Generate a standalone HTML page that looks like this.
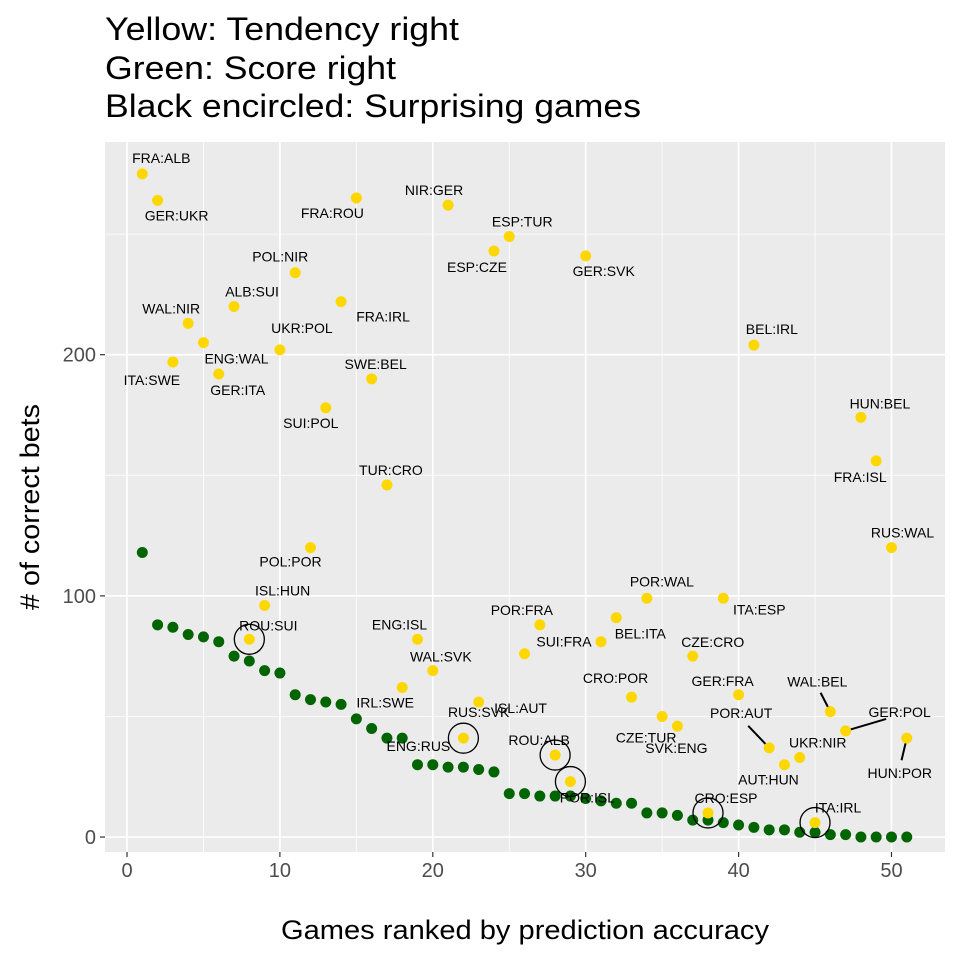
<!DOCTYPE html>
<html><head><meta charset="utf-8"><style>
html,body{margin:0;padding:0;background:#fff;}
svg{display:block;font-family:"Liberation Sans",sans-serif;}
</style></head><body>
<svg id="chart" width="960" height="960" viewBox="0 0 960 960">
<g font-size="32" fill="#000">
<text x="105" y="40" textLength="354" lengthAdjust="spacingAndGlyphs">Yellow: Tendency right</text>
<text x="105" y="79" textLength="291" lengthAdjust="spacingAndGlyphs">Green: Score right</text>
<text x="105" y="117" textLength="536" lengthAdjust="spacingAndGlyphs">Black encircled: Surprising games</text>
</g>
<rect x="105" y="142" width="840" height="710" fill="#EBEBEB"/>
<g id="grid"></g>
<g id="axes"></g>
<g id="marks"></g>
<text x="525" y="939" text-anchor="middle" font-size="27" textLength="488" lengthAdjust="spacingAndGlyphs">Games ranked by prediction accuracy</text>
<text transform="translate(39,507) rotate(-90)" text-anchor="middle" font-size="27" textLength="206" lengthAdjust="spacingAndGlyphs"># of correct bets</text>
</svg>
<script>
const games = ["FRA:ALB","GER:UKR","ITA:SWE","WAL:NIR","ENG:WAL","GER:ITA","ALB:SUI","ROU:SUI","ISL:HUN","UKR:POL","POL:NIR","POL:POR","SUI:POL","FRA:IRL","FRA:ROU","SWE:BEL","TUR:CRO","IRL:SWE","ENG:ISL","WAL:SVK","NIR:GER","ENG:RUS","RUS:SVK","ESP:CZE","ESP:TUR","ISL:AUT","POR:FRA","ROU:ALB","POR:ISL","GER:SVK","SUI:FRA","BEL:ITA","CRO:POR","POR:WAL","CZE:TUR","SVK:ENG","CZE:CRO","CRO:ESP","ITA:ESP","GER:FRA","BEL:IRL","POR:AUT","AUT:HUN","UKR:NIR","ITA:IRL","WAL:BEL","GER:POL","HUN:BEL","FRA:ISL","RUS:WAL","HUN:POR"];
const tendency = [275,264,197,213,205,192,220,82,96,202,234,120,178,222,265,190,146,62,82,69,262,41,56,243,249,76,88,34,23,241,81,91,58,99,50,46,75,10,99,59,204,37,30,33,6,52,44,174,156,120,41];
const score = [118,88,87,84,83,81,75,73,69,68,59,57,56,55,49,45,41,41,30,30,29,29,28,27,18,18,17,17,17,16,15,14,14,10,10,9,7,7,6,5,4,3,3,2,2,1,1,0,0,0,0];
const surprising = ["ROU:SUI","ENG:RUS","ROU:ALB","POR:ISL","CRO:ESP","ITA:IRL"];
const xTicks = [0,10,20,30,40,50];
const yTicks = [0,100,200];
// label offsets (layout, px)
const labelDX = [19,19,-21,-17,33,19,18,19,18,22,-15,-20,-15,42,-24,4,4,-17,-18,8,-14,-45,0,-17,13,-4,-18,-16,17,18,-37,24,-16,15,-16,-1,20,18,36,-16,18,-28,-16,18,23,-13,54,19,-16,11,-7];
const labelDY = [-16,15,18,-15,16,16,-15,-14,-15,-22,-16,14,15,15,15,-15,-15,15,-15,-14,-15,8,10,16,-15,54,-15,-15,16,15,0,16,-19,-17,21,22,-14,-15,11,-14,-16,-35,15,-15,-15,-30,-19,-14,16,-15,35];
const leader = ["POR:AUT","WAL:BEL","GER:POL","HUN:POR"];

const X0=-1.44,X1=53.5,Y0=-6.2,Y1=288.2,L=105,R=945,T=142,B=852;
const sx=v=>L+(v-X0)/(X1-X0)*(R-L);
const sy=v=>B-(v-Y0)/(Y1-Y0)*(B-T);
const NS="http://www.w3.org/2000/svg";
function mk(tag,attrs,parent){const e=document.createElementNS(NS,tag);for(const k in attrs)e.setAttribute(k,attrs[k]);parent.appendChild(e);return e;}
const grid=document.getElementById('grid'),axes=document.getElementById('axes'),marks=document.getElementById('marks');
for(let v=5;v<X1;v+=10){const l=mk('line',{x1:sx(v),x2:sx(v),y1:T,y2:B,stroke:'#fff','stroke-width':0.8},grid);}
for(let v=50;v<Y1;v+=100){const l=mk('line',{x1:L,x2:R,y1:sy(v),y2:sy(v),stroke:'#fff','stroke-width':0.8},grid);}
xTicks.forEach(v=>{
 const l=mk('line',{x1:sx(v),x2:sx(v),y1:T,y2:B,stroke:'#fff','stroke-width':1.7},grid);
 
 const t=mk('line',{x1:sx(v),x2:sx(v),y1:B,y2:B+5,stroke:'#333','stroke-width':1.2},axes);
 
 const tx=mk('text',{x:sx(v),y:B+25,'text-anchor':'middle','font-size':20,fill:'#4D4D4D'},axes);tx.textContent=v;
 
});
yTicks.forEach(v=>{
 const l=mk('line',{x1:L,x2:R,y1:sy(v),y2:sy(v),stroke:'#fff','stroke-width':1.7},grid);
 
 const t=mk('line',{x1:L-5,x2:L,y1:sy(v),y2:sy(v),stroke:'#333','stroke-width':1.2},axes);
 
 const tx=mk('text',{x:L-9,y:sy(v)+7,'text-anchor':'end','font-size':20,fill:'#4D4D4D'},axes);tx.textContent=v;
 
});
score.forEach((v,i)=>{
 const c=mk('circle',{cx:sx(i+1),cy:sy(v),r:5.5,fill:'#006400'},marks);
 
});
tendency.forEach((v,i)=>{
 const px=sx(i+1),py=sy(v),lx=px+labelDX[i],ly=py+labelDY[i];
 if(leader.includes(games[i])){
  const f=0.75;
  const ln=mk('line',{x1:px,y1:py,x2:px+labelDX[i]*f,y2:py+labelDY[i]*(f-0.12),stroke:'#000','stroke-width':2},marks);
  
 }
 const c=mk('circle',{cx:px,cy:py,r:5.5,fill:'#FFD700'},marks);
 
 if(surprising.includes(games[i])){
  const o=mk('circle',{cx:px,cy:py,r:15,fill:'none',stroke:'#000','stroke-width':1.3},marks);
  
 }
 const t=mk('text',{x:lx,y:ly+5,'text-anchor':'middle','font-size':14,fill:'#000'},marks);t.textContent=games[i];
 
});
</script>
</body></html>
